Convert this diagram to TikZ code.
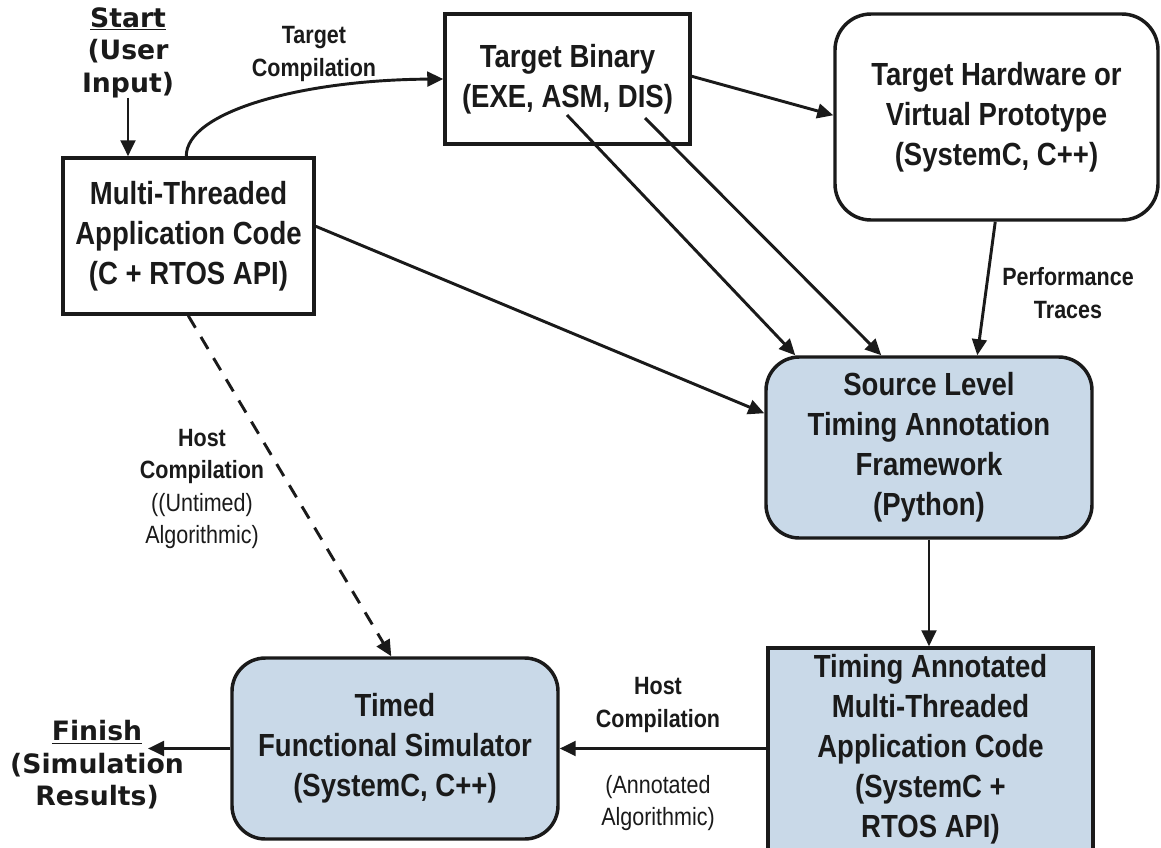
\documentclass[tikz,border=0pt]{standalone}
\usepackage{fontspec}
\usetikzlibrary{arrows.meta,calc}
\newfontfamily\nar{Liberation Sans}[FakeStretch=0.86]
\newfontfamily\verd{DejaVu Sans}
\definecolor{boxblue}{HTML}{C9D9E8}
\definecolor{ink}{HTML}{1A1A1A}
\begin{document}
\begin{tikzpicture}[x=0.75pt,y=-0.75pt,
  >={Triangle[length=12pt,width=11pt]},
  conn/.style={line width=2.2pt,->,draw=ink},
  big/.style={font=\nar\bfseries\fontsize{24}{30}\selectfont, align=center, inner sep=0pt, text=ink},
  sq/.style={big, draw=ink, line width=2.6pt, rectangle},
  rnd/.style={sq, rounded corners=#1},
  lbl/.style={font=\nar\bfseries\fontsize{18.75}{24.4}\selectfont, align=center, inner sep=0pt, text=ink},
  lblr/.style={font=\nar\fontsize{18.75}{24.4}\selectfont, align=center, inner sep=0pt, text=ink},
  term/.style={font=\verd\bfseries\fontsize{20}{24.4}\selectfont, align=center, inner sep=0pt, text=ink},
]
\useasboundingbox (0,0) rectangle (1161,847);
\begin{scope}
\clip (0,0) rectangle (1161,847);
\fill[white] (0,0) rectangle (1161,847);

% boxes
\node[sq, fill=white, minimum width=188.25pt, minimum height=117pt] (MT) at (188.5,236)
  {Multi-Threaded\\Application Code\\(C + RTOS API)};
\node[sq, fill=white, minimum width=183.75pt, minimum height=97.5pt] (TB) at (567.5,79)
  {Target Binary\\(EXE, ASM, DIS)};
\node[rnd=27pt, fill=white, minimum width=242.25pt, minimum height=154.5pt] (TH) at (996.5,117)
  {Target Hardware or\\Virtual Prototype\\(SystemC, C++)};
\node[rnd=25pt, fill=boxblue, minimum width=244.5pt, minimum height=135.75pt] (SL) at (929,447.5)
  {Source Level\\Timing Annotation\\Framework\\(Python)};
\node[sq, fill=boxblue, minimum width=243.75pt, minimum height=152.25pt] (TA) at (930.5,749.5)
  {Timing Annotated\\Multi-Threaded\\Application Code\\(SystemC +\\RTOS API)};
\node[rnd=25pt, fill=boxblue, minimum width=244.5pt, minimum height=135.75pt] (TF) at (395,748.5)
  {Timed\\Functional Simulator\\(SystemC, C++)};

% terminals
\node[term] (start) at (128,52.5) {\underline{Start}\\(User\\Input)};
\node[term] (finish) at (97,765) {\underline{Finish}\\(Simulation\\Results)};

% labels
\node[lbl] (tclbl) at (314,54) {Target\\Compilation};
\node[lbl] (ptlbl) at (1068,293) {Performance\\Traces};
\node[lbl] (hclbl) at (202,489) {Host\\Compilation\\{\mdseries ((Untimed)}\\{\mdseries Algorithmic)}};
\node[lbl] (hc2lbl) at (658,705) {Host\\Compilation};
\node[lblr] (anlbl) at (658,803) {(Annotated\\Algorithmic)};

% helper coordinates
\coordinate (mtc) at ($(MT.north west)+(125,0)$);
\coordinate (tb1) at (567,115);
\coordinate (tb2) at (645,118);
\coordinate (finarrow) at (148,748.5);

% connectors
\draw[conn] (start.south) -- (start.south |- MT.north);
\draw[conn] (mtc) .. controls (186,112) and (300,80) .. (TB.west);
\draw[conn] ($(TB.north east)+(0,64)$) -- ($(TH.north west)+(0,103)$);
\draw[conn] (tb1) -- ($(SL.north west)+(31,0)$);
\draw[conn] (tb2) -- ($(SL.north west)+(117,0)$);
\draw[conn] ($(TH.south west)+(162,0)$) -- ($(SL.north west)+(213,0)$);
\draw[conn] ($(MT.north east)+(0,70)$) -- ($(SL.north west)+(0,58)$);
\draw[conn] (SL.south) -- (SL.south |- TA.north);
\draw[conn] (TA.west |- TF.east) -- (TF.east);
\draw[conn] (TF.west) -- (finarrow);
\draw[conn, dash pattern=on 10.5pt off 8pt] ($(MT.south west)+(127,0)$) -- ($(TF.north west)+(161,0)$);
\end{scope}
\end{tikzpicture}
\end{document}
